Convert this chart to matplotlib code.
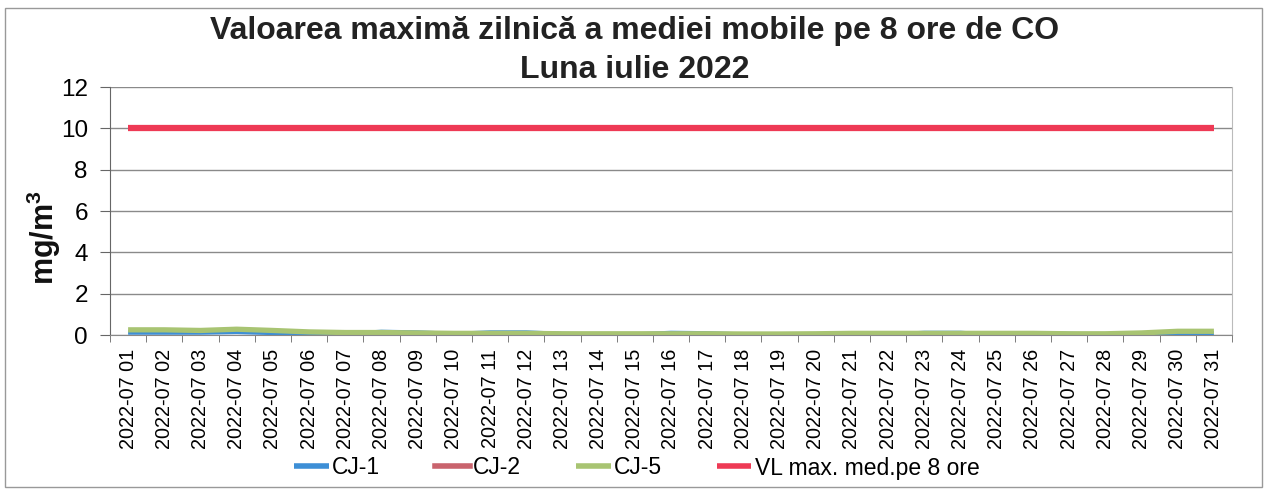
import matplotlib
matplotlib.use("Agg")
import matplotlib.pyplot as plt
import numpy as np
from matplotlib.patches import Rectangle

plt.rcParams['font.family'] = ['Liberation Sans', 'DejaVu Sans']
plt.rcParams['mathtext.fontset'] = 'custom'
plt.rcParams['mathtext.rm'] = 'Liberation Sans'
plt.rcParams['mathtext.bf'] = 'Liberation Sans:bold'

days = [f"2022-07 {d:02d}" for d in range(1, 32)]
cj1 = [0.12, 0.12, 0.12, 0.15, 0.10, 0.05, 0.05, 0.15, 0.12, 0.05, 0.12,
       0.12, 0.05, 0.02, 0.02, 0.10, 0.08, 0.02, 0.02, 0.00, 0.02, 0.02,
       0.10, 0.10, 0.00, 0.08, 0.05, 0.00, 0.00, 0.08, 0.08]
cj2 = [np.nan] * 31
cj5 = [0.25, 0.25, 0.22, 0.28, 0.22, 0.15, 0.12, 0.12, 0.10, 0.08, 0.08,
       0.08, 0.06, 0.06, 0.06, 0.06, 0.06, 0.05, 0.05, 0.06, 0.08, 0.08,
       0.08, 0.08, 0.08, 0.08, 0.06, 0.06, 0.10, 0.18, 0.18]
vl = [10] * 31

fig = plt.figure(figsize=(12.69, 4.91), dpi=100)
ax = fig.add_axes([110/1269, 1-335/491, (1232-110)/1269, (335-87)/491])

x = np.arange(len(days))
ax.plot(x, cj1, color='#3d8fd6', lw=3.2, label='CJ-1', solid_capstyle='butt')
ax.plot(x, cj2, color='#c9636d', lw=3.8, label='CJ-2')
ax.plot(x, cj5, color='#a8c472', lw=3.8, label='CJ-5', solid_capstyle='butt')
ax.plot(x, vl, color='#ee3a55', lw=4.5, label='VL max. med.pe 8 ore', solid_capstyle='butt')

ax.set_xlim(-0.5, 30.5)
ax.set_ylim(0, 12)
ax.set_yticks(range(0, 13, 2))
ax.tick_params(axis='y', labelsize=17.5, length=7, color='#666666', pad=9)
ax.grid(axis='y', color='#8a8a8a', lw=1.0)
ax.set_axisbelow(True)

ax.set_xticks(x)
ax.set_xticklabels(days, rotation=90, fontsize=14.3)
ax.tick_params(axis='x', which='major', length=0, pad=10)
ax.set_xticks(np.arange(-0.5, 31, 1), minor=True)
ax.tick_params(axis='x', which='minor', length=5, color='#666666')

ax.spines['top'].set_visible(False)
ax.spines['right'].set_color('#bbbbbb')
ax.spines['left'].set_color('#666666')
ax.spines['bottom'].set_color('#888888')

fig.text(44/1269, 1-238/491, r'mg/m$^{\mathbf{3}}$', rotation=90, ha='center', va='center',
         fontsize=22, fontweight='bold', color='#111111')

fig.text(0.5, 1-31/491, 'Valoarea maximă zilnică a mediei mobile pe 8 ore de CO',
         ha='center', va='center', fontsize=23, fontweight='bold', color='#222222')
fig.text(0.5, 1-70/491, 'Luna iulie 2022',
         ha='center', va='center', fontsize=23, fontweight='bold', color='#222222')

leg = fig.legend(loc='center', bbox_to_anchor=(0.502, 1-468/491), ncol=4, frameon=False,
                 fontsize=16.5, handlelength=1.5, handletextpad=0.15, columnspacing=2.4,
                 borderpad=0.1)
for h in leg.get_lines():
    h.set_linewidth(4)

fig.patches.append(Rectangle((5/1269, 1-487/491), 1257/1269, 479/491,
                             transform=fig.transFigure, fill=False,
                             edgecolor='#999999', lw=1.0))

fig.savefig('out.png', dpi=100)
